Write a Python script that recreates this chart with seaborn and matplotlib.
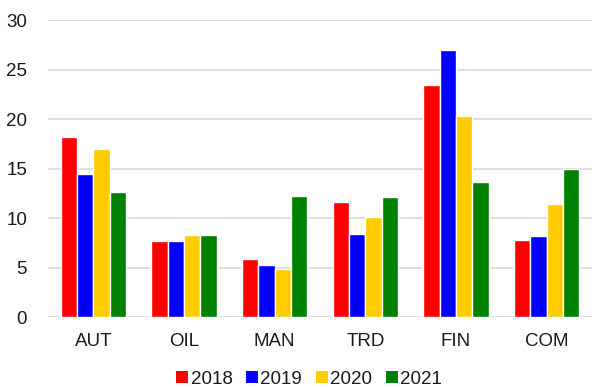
import matplotlib
matplotlib.use("Agg")
import matplotlib.pyplot as plt
import seaborn as sns
import pandas as pd
from matplotlib.patches import Patch

sectors = ["AUT", "OIL", "MAN", "TRD", "FIN", "COM"]
years = ["2018", "2019", "2020", "2021"]
v2018 = [18.2, 7.7, 5.9, 11.6, 23.5, 7.8]
v2019 = [14.5, 7.7, 5.3, 8.4, 27.0, 8.2]
v2020 = [17.0, 8.3, 4.9, 10.1, 20.3, 11.4]
v2021 = [12.7, 8.3, 12.2, 12.1, 13.7, 15.0]
colors = ["#ff0000", "#0000ff", "#ffcc00", "#008000"]

rows = []
for yr, vals in zip(years, [v2018, v2019, v2020, v2021]):
    for s, v in zip(sectors, vals):
        rows.append({"sector": s, "year": yr, "value": v})
df = pd.DataFrame(rows)

sns.set_theme(style="white")
plt.rcParams["font.family"] = ["Liberation Sans", "DejaVu Sans"]

fig = plt.figure(figsize=(5.92, 3.87), dpi=100)
ax = fig.add_axes([0.081, 0.18, 0.919, 0.768])

sns.barplot(data=df, x="sector", y="value", hue="year", order=sectors,
            hue_order=years, palette=colors, width=0.72, saturation=1,
            edgecolor="white", linewidth=1.0, ax=ax, legend=False, zorder=3)

ax.set_ylim(0, 30)
ax.set_yticks([0, 5, 10, 15, 20, 25, 30])
ax.set_xlim(-0.5, len(sectors) - 0.5)
ax.yaxis.grid(True, color="#d9d9d9", linewidth=1.2, zorder=0)
ax.set_axisbelow(True)
for sp in ax.spines.values():
    sp.set_visible(False)
ax.tick_params(axis="both", length=0, labelsize=13.5, colors="#1a1a1a")
ax.tick_params(axis="y", pad=15)
ax.tick_params(axis="x", pad=11)
ax.set_xlabel("")
ax.set_ylabel("")

handles = [Patch(facecolor=c, edgecolor="none") for c in colors]
fig.legend(handles, years, loc="lower center", bbox_to_anchor=(0.522, -0.045),
           ncol=4, frameon=False, fontsize=13.5, handlelength=0.65,
           handleheight=0.65, handletextpad=0.12, columnspacing=0.72,
           labelcolor="#1a1a1a")

fig.savefig("out.png", dpi=100)
